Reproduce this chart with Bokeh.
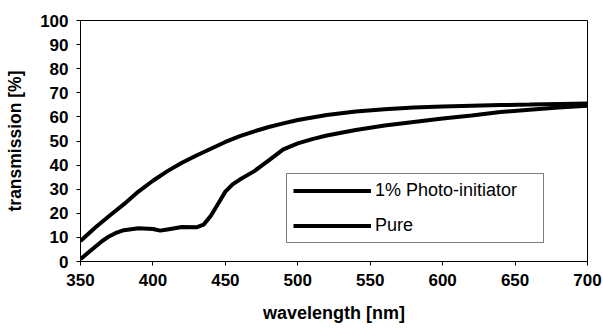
from bokeh.plotting import figure
from bokeh.models import Legend, LegendItem, FixedTicker, Range1d
from bokeh.embed import file_html
from bokeh.resources import INLINE

# Pure sample (upper curve)
wl_pure = [350, 360, 370, 380, 390, 400, 410, 420, 430, 440, 450, 460, 470, 480,
           490, 500, 520, 540, 560, 580, 600, 620, 640, 660, 680, 700]
t_pure = [8.5, 14, 19, 23.8, 29, 33.5, 37.5, 41, 44, 46.8, 49.6, 52, 54, 55.8,
          57.3, 58.7, 60.8, 62.2, 63.2, 63.9, 64.3, 64.6, 64.9, 65.1, 65.4, 65.6]

# 1% Photo-initiator (lower curve)
wl_pi = [350, 355, 360, 365, 370, 375, 380, 390, 400, 405, 410, 420, 430, 435,
         440, 445, 450, 455, 460, 470, 480, 490, 500, 510, 520, 540, 560, 580,
         600, 620, 640, 660, 680, 700]
t_pi = [1, 3.5, 6, 8.5, 10.5, 12, 13, 13.8, 13.5, 12.8, 13.3, 14.3, 14.2, 15.3,
        19, 24, 29, 32, 34, 37.5, 42, 46.5, 49, 50.8, 52.3, 54.6, 56.4, 57.9,
        59.3, 60.6, 62, 63, 63.9, 64.6]

x_ticks = [350, 400, 450, 500, 550, 600, 650, 700]
y_ticks = [0, 10, 20, 30, 40, 50, 60, 70, 80, 90, 100]

FONT = "Liberation Sans"

p = figure(width=603, height=330, output_backend="svg", toolbar_location=None,
           x_range=Range1d(350, 700), y_range=Range1d(0, 100),
           min_border_left=80, min_border_right=16, min_border_top=20,
           min_border_bottom=69)

r_pi = p.line(wl_pi, t_pi, line_color="black", line_width=4)
r_pure = p.line(wl_pure, t_pure, line_color="black", line_width=4)

p.xgrid.visible = False
p.ygrid.visible = False
p.outline_line_color = "black"
p.outline_line_width = 1
p.background_fill_color = "white"
p.border_fill_color = "white"

p.xaxis.ticker = FixedTicker(ticks=x_ticks)
p.yaxis.ticker = FixedTicker(ticks=y_ticks)
for ax in (p.xaxis, p.yaxis):
    ax.axis_line_color = "black"
    ax.axis_line_width = 1
    ax.major_tick_line_color = "black"
    ax.major_tick_out = 4
    ax.major_tick_in = 0
    ax.minor_tick_line_color = None
    ax.major_label_text_font = FONT
    ax.major_label_text_font_style = "bold"
    ax.major_label_text_font_size = "17px"
    ax.major_label_text_color = "black"
    ax.axis_label_text_font = FONT
    ax.axis_label_text_font_style = "bold"
    ax.axis_label_text_color = "black"

p.xaxis.axis_label = "wavelength [nm]"
p.yaxis.axis_label = "transmission [%]"
p.xaxis.axis_label_text_font_size = "18px"
p.yaxis.axis_label_text_font_size = "17.5px"
p.xaxis.major_label_standoff = 8
p.yaxis.major_label_standoff = 8
p.xaxis.axis_label_standoff = 14
p.yaxis.axis_label_standoff = 12

legend = Legend(items=[LegendItem(label="1% Photo-initiator", renderers=[r_pi]),
                       LegendItem(label="Pure", renderers=[r_pure])],
                location=(206, 18))
legend.border_line_color = "black"
legend.border_line_width = 1
legend.background_fill_color = "white"
legend.background_fill_alpha = 1
legend.padding = 6
legend.spacing = 14
legend.margin = 0
legend.glyph_width = 78
legend.glyph_height = 21
legend.label_height = 21
legend.label_standoff = 4
legend.label_width = 162
legend.label_text_font = FONT
legend.label_text_font_size = "18px"
legend.label_text_color = "black"
p.add_layout(legend)

open("out.html", "w").write(file_html(p, INLINE))
